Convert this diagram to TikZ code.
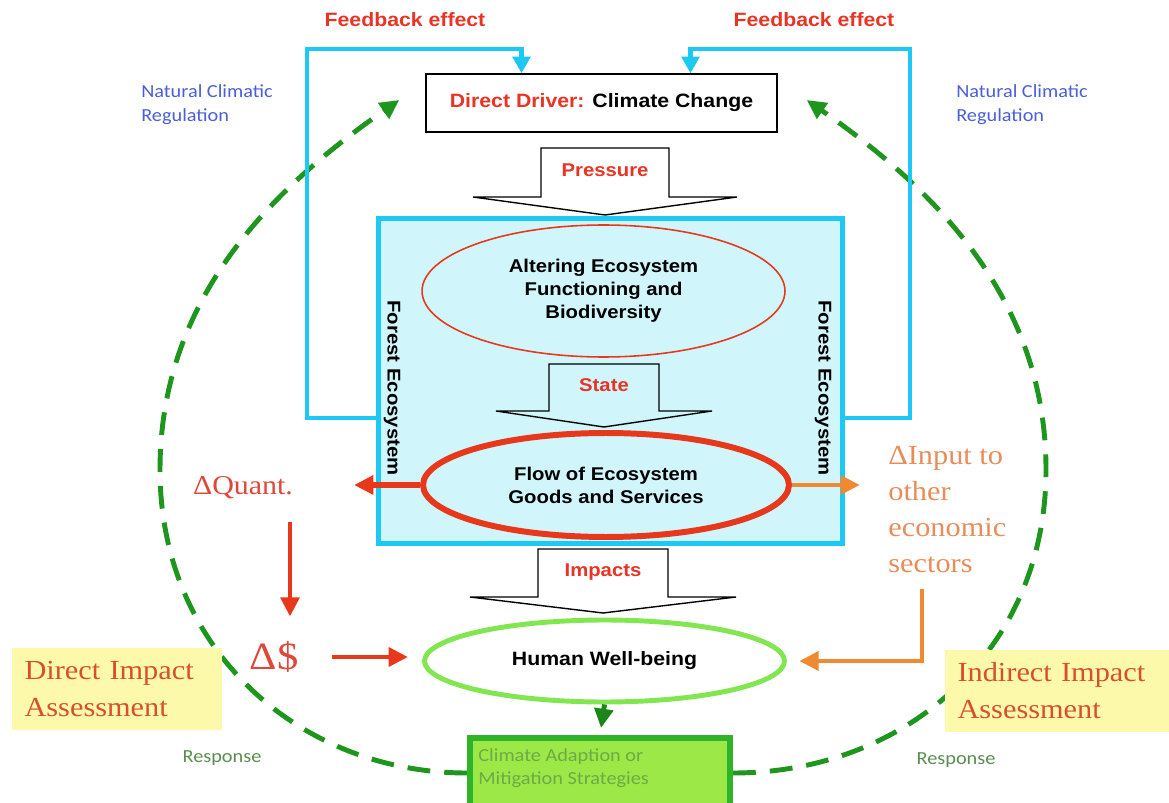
\documentclass[tikz,border=0pt]{standalone}
\usepackage{fontspec}
\setmainfont{Liberation Sans}[FakeStretch=1.1]
\newfontfamily\timesfont{Liberation Serif}[FakeStretch=1.1]
\newfontfamily\calfont{Carlito}[FakeStretch=1.1]
\usetikzlibrary{calc}
\usetikzlibrary{arrows.meta}
\usetikzlibrary{shapes.geometric}
\usetikzlibrary{backgrounds}

\definecolor{fbcyan}{RGB}{30,200,245}
\definecolor{boxcyan}{RGB}{208,246,251}
\definecolor{ddred}{RGB}{232,52,36}
\definecolor{ecored}{RGB}{232,56,28}
\definecolor{inorange}{RGB}{240,138,50}
\definecolor{dashgreen}{RGB}{30,150,30}
\definecolor{wellgreen}{RGB}{130,230,80}
\definecolor{stratfill}{RGB}{155,232,70}
\definecolor{stratdraw}{RGB}{45,180,40}
\definecolor{stratgreen}{RGB}{110,170,70}
\definecolor{natblue}{RGB}{75,95,215}
\definecolor{respgreen}{RGB}{90,140,80}
\definecolor{assessyellow}{RGB}{253,249,170}
\definecolor{assessred}{RGB}{215,80,45}
\definecolor{deltared}{RGB}{222,72,58}
\definecolor{inputorange}{RGB}{232,140,90}

\begin{document}
\begin{tikzpicture}[x=0.02cm, y=-0.02cm, >={Triangle[length=11pt, width=10.5pt]},
  feedline/.style={fbcyan, line width=2.8pt, -{Triangle[length=9.5pt, width=10pt]}},
  responseline/.style={dashgreen, line width=2.8pt, dash pattern=on 13pt off 8pt, ->},
  blockarrow/.style={draw=black, line width=0.8pt, line join=miter},
  blocktext/.style={text=ddred, font=\bfseries\fontsize{10.5}{12}\selectfont},
  driverbox/.style={draw=black, line width=0.8pt, fill=white, minimum width=7.02cm, minimum height=1.16cm, font=\bfseries\fontsize{11}{13}\selectfont},
  forestbox/.style={draw=fbcyan, fill=boxcyan, line width=2.8pt, minimum width=9.28cm, minimum height=6.5cm},
  ecoellipse/.style={ellipse, inner sep=0pt, align=center, font=\bfseries\fontsize{10.5}{13}\selectfont},
  stratbox/.style={draw=stratdraw, fill=stratfill, line width=3.4pt, minimum width=5.2cm, minimum height=1.4cm},
  assessbox/.style={fill=assessyellow, text=assessred, align=left, inner xsep=0.25cm, inner ysep=0pt, font=\timesfont\fontsize{15.7}{21}\selectfont},
  deltatext/.style={inner sep=0pt, font=\timesfont\fontsize{15.5}{20}\selectfont},
  redarrow/.style={ecored, line width=2.8pt, ->},
  orangearrow/.style={inorange, line width=2.8pt, ->},
  smalltext/.style={align=left, inner sep=0pt, font=\calfont\fontsize{10.5}{13.5}\selectfont}
]
\useasboundingbox (0,0) rectangle (1169,803);

% titles
\node[blocktext, font=\bfseries\fontsize{11}{13}\selectfont] (fbleft) at (405,20) {Feedback effect};
\node[blocktext, font=\bfseries\fontsize{11}{13}\selectfont] (fbright) at (814,20) {Feedback effect};
\node[smalltext, text=natblue] (natleft) at (207,105) {Natural Climatic\\Regulation};
\node[smalltext, text=natblue] (natright) at (1022,105) {Natural Climatic\\Regulation};

% the forest ecosystem
\node[forestbox] (forest) at (610.5,381) {};
\node[driverbox] (driver) at (601.5,103) {\textcolor{ddred}{Direct Driver:} Climate Change};
\node[ecoellipse, draw=ecored, line width=0.9pt, minimum width=7.26cm, minimum height=2.64cm] (alter) at (603.5,291) {Altering Ecosystem\\Functioning and\\Biodiversity};
\node[ecoellipse, draw=ecored, line width=3.4pt, minimum width=7.32cm, minimum height=2.08cm] (flow) at (606,485) {Flow of Ecosystem\\Goods and Services};
\node[ecoellipse, rotate=-90] (forestleft) at (392,388) {Forest Ecosystem};
\node[ecoellipse, rotate=-90] (forestright) at (823,388) {Forest Ecosystem};

\foreach \cx/\ty/\sw/\sb/\hw/\tp/\fil/\lab/\ly in {605/148/64/197/132/215/white/Pressure/170, 604/364/55/411/108/427/boxcyan/State/385, 603/549/65/597/133/613/white/Impacts/572}
{
 \filldraw[blockarrow, fill=\fil] ({\cx-\sw},\ty) -- ({\cx+\sw},\ty) -- ({\cx+\sw},\sb) -- ({\cx+\hw},\sb) -- (\cx,\tp) -- ({\cx-\hw},\sb) -- ({\cx-\sw},\sb) -- cycle;
 \node[blocktext] (\lab) at (\cx,\ly) {\lab};
}

% feedback loops
\draw[feedline] (forest.west |- 0,418) -| (307,49) -| ($(driver.north)+(-80,0)$);
\draw[feedline] (forest.east |- 0,418) -| (910,49) -| ($(driver.north)+(89,0)$);

% human side
\node[ecoellipse, draw=wellgreen, fill=white, line width=2.8pt, minimum width=7.2cm, minimum height=1.64cm, font=\bfseries\fontsize{11}{13}\selectfont] (human) at (604.5,661) {Human Well-being};
\node[stratbox] (strategies) at (600,773) {};
\node[smalltext, text=stratgreen, anchor=north west] (stratlabel) at ($(strategies.north west)+(11,13)$) {Climate Adaption or\\Mitigation Strategies};
\draw[dashgreen!90!black, line width=2.8pt, ->, shorten >=4pt] (human.south) -- (strategies.north);

% direct impact
\node[deltatext, text=deltared] (quant) at (243,488) {ΔQuant.};
\node[deltatext, text=deltared, font=\timesfont\fontsize{22}{26}\selectfont] (dollar) at (274,657) {Δ\$};
\draw[redarrow, line width=3.2pt] (flow.west) -- ++(-66,0);
\draw[redarrow, shorten <=13pt, shorten >=14pt] (quant.south -| 290,0) -- (dollar.north -| 290,0);
\draw[redarrow, shorten <=19pt, shorten >=8pt] (dollar.east) -- (dollar.east -| human.west);

% indirect impact
\node[deltatext, text=inputorange, anchor=west, align=left, font=\timesfont\fontsize{15.7}{20.5}\selectfont] (input) at (888,510) {ΔInput to\\other\\economic\\sectors};
\draw[orangearrow] (flow.east) -- ++(68,0);
\draw[orangearrow, shorten <=9pt, shorten >=7pt] (input.south -| 922,0) |- (human.east);

% assessments
\node[assessbox, text width=3.7cm, minimum height=1.64cm] (direct) at (117,689) {Direct Impact\\Assessment};
\node[assessbox, text width=4.1cm, minimum height=1.66cm] (indirect) at (1060,691) {Indirect Impact\\Assessment};
\node[smalltext, text=respgreen] (respleft) at (222,758) {Response};
\node[smalltext, text=respgreen] (respright) at (956,760) {Response};

% response loops
\begin{scope}[on background layer]
\draw[responseline] (strategies.west) .. controls (300,773) and (160,650) .. (160,470) .. controls (160,300) and (270,190) .. ($(driver.west)+(-26,-3)$);
\draw[responseline] (strategies.east) .. controls (906,773) and (1046,650) .. (1046,470) .. controls (1046,300) and (936,190) .. ($(driver.east)+(29,-3)$);
\end{scope}
\end{tikzpicture}
\end{document}
